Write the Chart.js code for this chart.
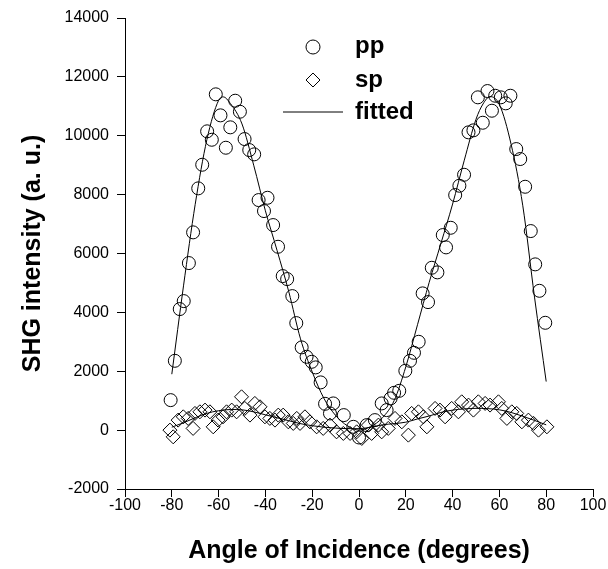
<!DOCTYPE html>
<html><head><meta charset="utf-8">
<script src="https://cdn.jsdelivr.net/npm/chart.js@4"></script>
<style>html,body{margin:0;padding:0;background:#fff;overflow:hidden}#wrap{width:608px;height:569px}</style>
</head><body><div id="wrap"><canvas id="c" width="608" height="569"></canvas></div>
<script>
const xTickValues = [-100,-80,-60,-40,-20,0,20,40,60,80,100];
const yTickValues = [-2000,0,2000,4000,6000,8000,10000,12000,14000];
const xTitle = 'Angle of Incidence (degrees)';
const yTitle = 'SHG intensity (a. u.)';
const legendLabels = ['pp','sp','fitted'];

const ppAngles = [-80.5,-78.7,-76.6,-74.9,-72.7,-70.9,-68.7,-67.0,-64.9,-62.9,-61.2,-59.2,-56.9,-55.0,-52.9,-50.9,-48.9,-46.9,-44.8,-42.9,-40.6,-39.1,-36.7,-34.6,-32.6,-30.7,-28.5,-26.8,-24.5,-22.4,-20.2,-18.5,-16.4,-14.5,-12.4,-11.0,-6.5,-2.4,0,3.3,6.8,9.7,11.8,13.5,15.0,17.2,19.8,21.8,23.5,25.5,27.2,29.5,31.1,33.5,35.8,37.2,39.2,41.1,42.9,44.9,46.8,48.9,50.8,52.9,54.9,56.8,58.2,60.6,62.7,64.7,67.2,68.9,71.0,73.4,75.3,77.1,79.6];
const ppValues = [1019,2355,4112,4383,5675,6718,8213,9015,10150,9864,11407,10693,9593,10286,11190,10816,9888,9514,9368,7815,7442,7893,6966,6229,5233,5131,4553,3636,2810,2491,2321,2131,1621,894,567,907,510,112,-250,170,340,907,680,1077,1267,1335,2015,2355,2627,3001,4645,4349,5515,5359,6626,6208,6874,7985,8301,8675,10116,10184,11305,10442,11519,10850,11359,11305,11101,11359,9548,9209,8267,6762,5631,4733,3646];

const spAngles = [-80.8,-79.4,-77.3,-75.1,-73.0,-70.9,-70.1,-68.0,-65.8,-63.7,-62.3,-60.2,-58.1,-56.6,-54.4,-52.3,-50.2,-48.8,-46.6,-44.5,-42.3,-40.2,-38.1,-35.9,-34.5,-32.4,-30.2,-28.1,-26.6,-25.2,-23.1,-21.0,-18.1,-15.3,-12.4,-9.6,-6.7,-3.8,-1.0,1.2,4.0,5.4,8.3,9.7,12.5,15.4,18.3,21.1,22.5,25.4,27.5,29.0,32.5,34.6,36.8,39.6,42.5,43.9,46.8,48.9,51.0,53.9,56.0,59.6,61.0,63.2,65.3,67.4,69.6,72.4,74.6,76.7,80.3];
const spValues = [0,-228,340,452,398,58,567,622,680,622,112,340,452,622,680,622,1132,737,510,907,792,452,398,340,510,510,282,228,398,228,452,282,112,58,170,-58,-112,-112,-58,-282,170,-112,170,-58,58,398,282,-170,567,622,452,112,737,680,452,737,622,962,850,680,962,907,850,962,737,398,622,567,282,340,228,0,112];

const ppFitAngles = [-80,-75,-70,-65,-60,-58,-55,-50,-45,-40,-35,-30,-25,-20,-15,-10,-5,0,5,10,15,20,25,30,35,40,45,50,53,56,60,65,70,75,80];
const ppFitValues = [1900,4900,7670,9870,11200,11320,11100,10400,9000,7450,6100,4700,3100,1980,1080,500,150,0,120,420,1000,2150,3580,5020,6340,7680,9170,10560,11080,11330,11060,9710,7620,4520,1650];

const spFitAngles = [-80,-75,-70,-65,-60,-55,-50,-45,-40,-35,-30,-25,-20,-15,-10,-5,0,5,10,15,20,25,30,35,40,45,50,55,60,65,70,75,80];
const spFitValues = [100,250,420,570,660,700,690,620,520,420,320,220,150,100,70,50,50,100,180,220,270,380,480,600,680,720,740,730,690,600,470,330,180];

const pts = (xs, ys) => xs.map((x, i) => ({x: x, y: ys[i]}));

const legendPlugin = {
  id: 'refLegend',
  afterDatasetsDraw(chart) {
    const ctx = chart.ctx;
    ctx.save();
    ctx.strokeStyle = '#000';
    ctx.fillStyle = '#000';
    ctx.lineWidth = 1;
    ctx.beginPath(); ctx.arc(313, 47, 7, 0, Math.PI * 2); ctx.stroke();
    ctx.beginPath(); ctx.moveTo(306, 80); ctx.lineTo(313, 73); ctx.lineTo(320, 80); ctx.lineTo(313, 87); ctx.closePath(); ctx.stroke();
    ctx.beginPath(); ctx.moveTo(283, 112); ctx.lineTo(343, 112); ctx.stroke();
    ctx.font = 'bold 24px "Liberation Sans", Arial, sans-serif';
    ctx.textBaseline = 'middle';
    ctx.textAlign = 'left';
    ctx.fillText(legendLabels[0], 355, 46);
    ctx.fillText(legendLabels[1], 355, 80);
    ctx.fillText(legendLabels[2], 355, 112);
    ctx.restore();
  }
};

const tickFont = {family: '"Liberation Sans", Arial, sans-serif', size: 16};
const titleFont = {family: '"Liberation Sans", Arial, sans-serif', size: 25, weight: 'bold'};
const plain = v => String(v);

new Chart(document.getElementById('c'), {
  type: 'scatter',
  data: {
    datasets: [
      {label: legendLabels[0], data: pts(ppAngles, ppValues), pointStyle: 'circle', pointRadius: 6.5, borderColor: '#000', backgroundColor: 'rgba(0,0,0,0)', borderWidth: 1, showLine: false},
      {label: legendLabels[1], data: pts(spAngles, spValues), pointStyle: 'rectRot', pointRadius: 7, borderColor: '#000', backgroundColor: 'rgba(0,0,0,0)', borderWidth: 1, showLine: false},
      {label: legendLabels[2], data: pts(ppFitAngles, ppFitValues), showLine: true, pointRadius: 0, borderColor: '#000', borderWidth: 1, cubicInterpolationMode: 'monotone', fill: false},
      {label: legendLabels[2] + ' sp', data: pts(spFitAngles, spFitValues), showLine: true, pointRadius: 0, borderColor: '#000', borderWidth: 1, cubicInterpolationMode: 'monotone', fill: false}
    ]
  },
  options: {
    responsive: false,
    animation: false,
    devicePixelRatio: 1,
    layout: {padding: {left: 0, right: 15, top: 18, bottom: 0}},
    plugins: {legend: {display: false}, tooltip: {enabled: false}},
    scales: {
      x: {
        type: 'linear', min: -100, max: 100,
        afterBuildTicks: s => { s.ticks = xTickValues.map(v => ({value: v})); },
        afterFit: s => { s.height = 80; },
        ticks: {color: '#000', font: tickFont, padding: -1, maxRotation: 0, callback: plain},
        grid: {drawOnChartArea: false, drawTicks: true, tickLength: 8, color: '#000'},
        border: {display: true, color: '#000', width: 1},
        title: {display: true, text: xTitle, color: '#000', font: titleFont, padding: {top: 0, bottom: 3}}
      },
      y: {
        type: 'linear', min: -2000, max: 14000,
        afterBuildTicks: s => { s.ticks = yTickValues.map(v => ({value: v})); },
        afterFit: s => { s.width = 125; },
        ticks: {color: '#000', font: tickFont, padding: 8, callback: plain},
        grid: {drawOnChartArea: false, drawTicks: true, tickLength: 8, color: '#000'},
        border: {display: true, color: '#000', width: 1},
        title: {display: true, text: yTitle, color: '#000', font: titleFont, padding: {top: 18, bottom: 0}}
      }
    }
  },
  plugins: [legendPlugin]
});
</script>
</body></html>
